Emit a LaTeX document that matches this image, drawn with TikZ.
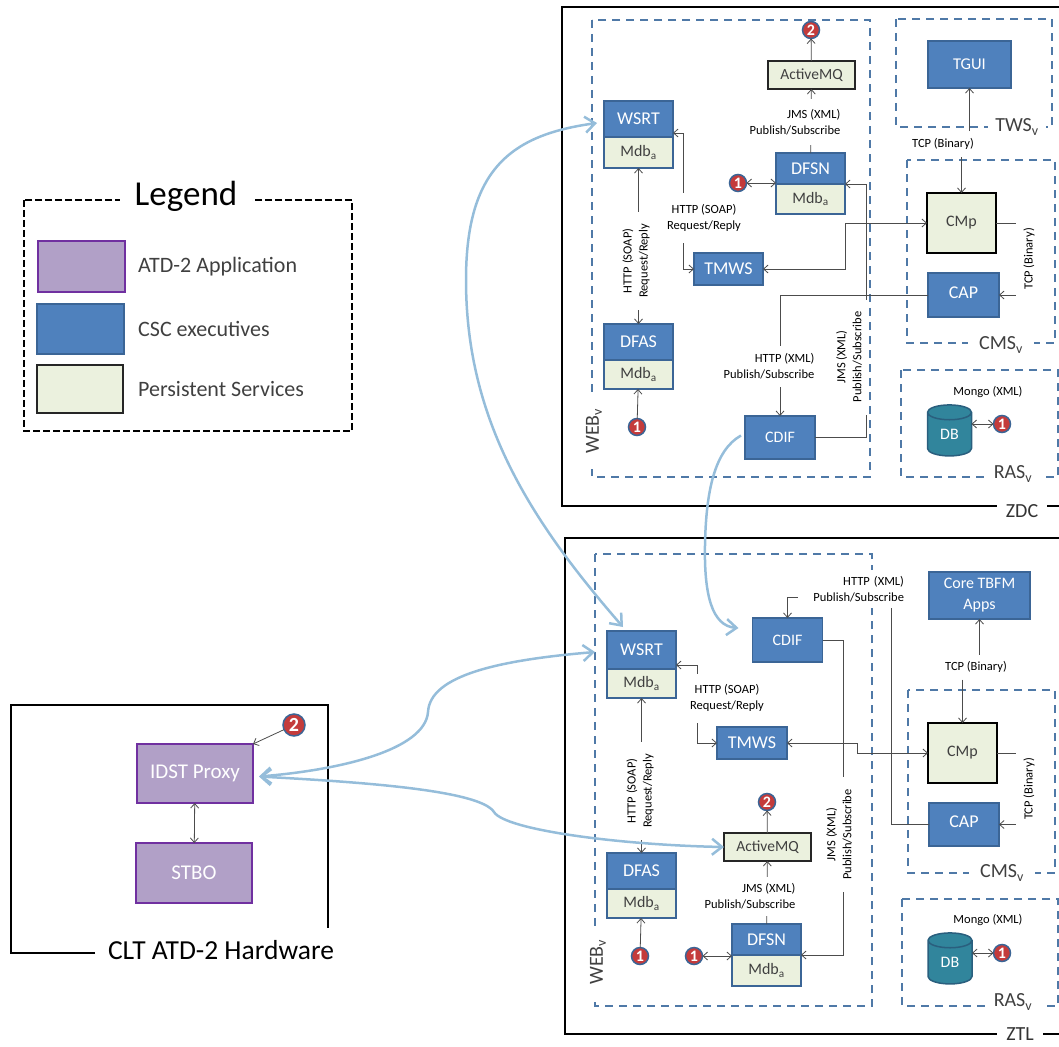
\documentclass[tikz,border=0pt]{standalone}
\usepackage{fontspec}
\setmainfont{Carlito}
\usetikzlibrary{positioning, arrows.meta, shapes.geometric}
\definecolor{execblue}{HTML}{4F81BD}
\definecolor{execedge}{HTML}{3B6596}
\definecolor{appfill}{HTML}{B1A0C7}
\definecolor{appedge}{HTML}{7030A0}
\definecolor{persist}{HTML}{EBF1DE}
\definecolor{dbfill}{HTML}{31859C}
\definecolor{dbedge}{HTML}{2A5F7E}
\definecolor{zoneblue}{HTML}{4F79A7}
\definecolor{curveblue}{HTML}{95BDDA}
\definecolor{badgered}{HTML}{C43B3B}
\definecolor{greytext}{HTML}{404040}

\begin{document}
\begin{tikzpicture}[x=1pt, y=-1pt, >={Straight Barb[length=4.5pt,width=8pt]},
	exec/.style = {draw=execedge, fill=execblue, line width=1.5pt, text=white, inner sep=0pt, outer sep=0pt, minimum width=69pt, font=\fontsize{18}{20}\selectfont},
	mdb/.style = {draw=execedge, fill=persist, line width=1.5pt, text=greytext, inner sep=0pt, outer sep=0pt, minimum width=69pt, font=\fontsize{16}{18}\selectfont},
	pers/.style = {draw=black!85, fill=persist, line width=1.3pt, text=greytext, inner sep=0pt, outer sep=0pt, font=\fontsize{15.5}{18}\selectfont},
	app/.style = {draw=appedge, fill=appfill, line width=2pt, text=white, inner sep=0pt, outer sep=0pt, font=\fontsize{21}{23}\selectfont},
	badge/.style = {circle, draw=execedge, fill=badgered, line width=1.5pt, text=white, inner sep=0pt, outer sep=0pt, minimum size=17pt, font=\fontsize{16}{16}\bfseries\selectfont},
	dbase/.style = {cylinder, shape border rotate=90, aspect=0.8, draw=dbedge, line width=1.5pt, cylinder uses custom fill, cylinder body fill=dbfill, cylinder end fill=dbfill, text=white, inner sep=0pt, outer sep=0pt, minimum width=44pt, minimum height=51pt, font=\fontsize{16}{18}\selectfont},
	conn/.style = {draw=black!70, line width=0.8pt},
	curve/.style = {draw=curveblue, line width=2.5pt, >={Straight Barb[length=10pt,width=16pt]}},
	zone/.style = {draw=zoneblue, line width=1.6pt, dash pattern=on 8pt off 6pt},
	frame/.style = {draw=black, line width=2.4pt},
	flow/.style = {fill=white, inner sep=0pt, outer sep=0pt, align=right, font=\fontsize{12.5}{16}\selectfont},
	zonelabel/.style = {fill=white, inner sep=0pt, outer sep=0pt, text=greytext, minimum height=25pt, font=\fontsize{20}{22}\selectfont},
	legtxt/.style = {text=greytext, inner sep=0pt, font=\fontsize{22}{24}\selectfont}]
	\useasboundingbox (0,0) rectangle (1059,1046);

	\draw[frame] (1059,7) -- (562,7) -- (562,506) -- (1059,506);
	\draw[frame] (1059,538) -- (565,538) -- (565,1034) -- (1059,1034);
	\draw[frame] (95,953) -- (11,953) -- (11,705) -- (328,705) -- (328,928);
	\draw[draw=black, line width=2.8pt, dash pattern=on 7pt off 3pt] (24,200) rectangle (352,431);

	\draw[zone] (592,20) rectangle (870,477);
	\draw[zone] (896,19) rectangle (1052,127);
	\draw[zone] (907,160) rectangle (1055,343);
	\draw[zone] (901,370) rectangle (1058,477);
	\draw[zone] (595,554) rectangle (872,1006);
	\draw[zone] (908,690) rectangle (1055,873);
	\draw[zone] (902,899) rectangle (1058,1006);

	\node[zonelabel, minimum width=132pt, minimum height=30pt, text=black, font=\fontsize{35}{37}\selectfont] (legend) at (186,196) {Legend};
	\node[app, minimum width=87pt, minimum height=51pt] (legapp) at (81.5,266.5) {};
	\node[exec, minimum width=87pt, minimum height=50pt] (legexec) at (80.5,329) {};
	\node[pers, minimum width=86pt, minimum height=48pt] (legpers) at (80,389) {};
	\node[legtxt] (legapptxt) [right = 13pt of legapp] {ATD-2 Application};
	\node[legtxt] (legexectxt) [right = 14pt of legexec] {CSC executives};
	\node[legtxt] (legperstxt) [right = 15pt of legpers] {Persistent Services};

	\node[app, minimum width=116pt, minimum height=59pt] (idst) at (195,773.5) {IDST Proxy};
	\node[app, minimum width=116pt, minimum height=60pt] (stbo) at (194,873) {STBO};
	\node[badge, minimum size=22pt, font=\fontsize{20}{20}\bfseries\selectfont] (bclt) at (294,725) {2};
	\node[font=\fontsize{27.5}{29}\selectfont, inner sep=0pt] (clt) at (221,950) {CLT ATD-2 Hardware};
	\draw[conn, <->] (idst) -- (stbo);
	\draw[conn, ->] (bclt) -- (idst.north east);

	\node[pers, minimum width=87pt, minimum height=28pt] (actmqz) at (811.5,75) {ActiveMQ};
	\node[badge] (b2z) at (811,30) {2};
	\node[exec, minimum height=36pt] (wsrtz) at (638.5,119) {WSRT};
	\node[mdb, minimum height=31pt] (mdbwz) [below = 0pt of wsrtz] {Mdb\textsubscript{a}};
	\node[exec, minimum height=31pt] (dfsnz) at (810.5,168.5) {DFSN};
	\node[mdb, minimum height=30pt] (mdbsz) [below = 0pt of dfsnz] {Mdb\textsubscript{a}};
	\node[badge] (b1az) at (738,183) {1};
	\node[exec, minimum height=32pt] (tmwsz) at (728.5,269) {TMWS};
	\node[exec, minimum width=69pt, minimum height=36pt] (dfasz) at (638.5,342) {DFAS};
	\node[mdb, minimum height=29pt] (mdbaz) [below = 0pt of dfasz] {Mdb\textsubscript{a}};
	\node[badge] (b1bz) at (637,427) {1};
	\node[exec, minimum width=70pt, minimum height=43pt, font=\fontsize{16}{18}\selectfont] (cdifz) at (780,437.5) {CDIF};
	\node[exec, minimum width=83pt, minimum height=47pt, font=\fontsize{16.5}{18}\selectfont] (tguiz) at (969.5,64.5) {TGUI};
	\node[pers, draw=black, line width=2.4pt, minimum width=69pt, minimum height=60pt, font=\fontsize{16}{18}\selectfont] (cmpz) at (961.5,223) {CMp};
	\node[exec, minimum width=71pt, minimum height=44pt] (capz) at (963.5,295) {\raisebox{5pt}{CAP}};
	\node[dbase] (dbz) at (949.5,434.5) {DB};
	\node[badge] (b1cz) at (1002,424) {1};

	\node[pers, minimum width=87pt, minimum height=28pt] (actmql) at (767.5,847) {ActiveMQ};
	\node[badge] (b2l) at (767,802) {2};
	\node[exec, minimum height=38pt] (wsrtl) at (641.5,650) {WSRT};
	\node[mdb, minimum height=29pt] (mdbwl) [below = 0pt of wsrtl] {Mdb\textsubscript{a}};
	\node[exec, minimum height=31pt] (dfsnl) at (766.5,939.5) {DFSN};
	\node[mdb, minimum height=31pt] (mdbsl) [below = 0pt of dfsnl] {Mdb\textsubscript{a}};
	\node[badge] (b1al) at (694,956) {1};
	\node[exec, minimum width=70pt, minimum height=32pt] (tmwsl) at (752,743) {TMWS};
	\node[exec, minimum height=36pt] (dfasl) at (641.5,871) {DFAS};
	\node[mdb, minimum height=29pt] (mdbal) [below = 0pt of dfasl] {Mdb\textsubscript{a}};
	\node[badge] (b1bl) at (640,956) {1};
	\node[exec, minimum width=70pt, minimum height=44pt, font=\fontsize{16}{18}\selectfont] (cdifl) at (787.5,640) {CDIF};
	\node[exec, minimum width=101pt, minimum height=47pt, align=center, font=\fontsize{16}{21}\selectfont] (corel) at (979.5,595.5) {Core TBFM\\Apps};
	\node[pers, draw=black, line width=2.4pt, minimum width=69pt, minimum height=60pt, font=\fontsize{16}{18}\selectfont] (cmpl) at (962.5,753) {CMp};
	\node[exec, minimum width=70pt, minimum height=43pt] (capl) at (964,824.5) {\raisebox{5pt}{CAP}};
	\node[dbase] (dbl) at (950,962.5) {DB};
	\node[badge] (b1cl) at (1002,953) {1};

	\draw[conn, <->] (mdbwz) -- (dfasz);
	\draw[conn, ->] (b1bz) -- (mdbaz);
	\draw[conn, ->] (actmqz) -- (b2z);
	\draw[conn, ->] (dfsnz) -- (actmqz);
	\draw[conn, <->] (b1az) -- (b1az -| dfsnz.west);
	\draw[conn, <->] ([yshift=4pt]wsrtz.south east) -- ++(10,0) |- (tmwsz.west);
	\draw[conn, <->] (tmwsz.east) -- ++(82,0) |- (cmpz.west);
	\draw[conn, <-] (dfsnz.south east) -- ++(21,0) |- (cdifz.east);
	\draw[conn, ->] (capz.west) -| (cdifz);
	\draw[conn, <->] (b1cz -| dbz.east) -- (b1cz);

	\draw[conn, <->] (mdbwl) -- (dfasl);
	\draw[conn, ->] (b1bl) -- (mdbal);
	\draw[conn, ->] (actmql) -- (b2l);
	\draw[conn, ->] (dfsnl) -- (actmql);
	\draw[conn, <->] (b1al) -- (b1al -| dfsnl.west);
	\draw[conn, <->] ([yshift=4pt]wsrtl.south east) -- ++(21,0) |- (tmwsl.west);
	\draw[conn, <->] (tmwsl.east) -- ++(70,0) |- (cmpl.west);
	\draw[conn, <-] (dfsnl.south east) -- ++(42,0) |- (cdifl.east);
	\draw[conn, ->] (capl.west) -| ++(-38,-227) -| (cdifl);
	\draw[conn, <->] (b1cl -| dbl.east) -- (b1cl);

	\node[flow, align=center, minimum width=98pt, minimum height=34pt, rotate=90] (soapvz) at (636,261) {HTTP (SOAP)\\Request/Reply};
	\node[flow, minimum height=46pt] (jmsz) at (795,122) {JMS (XML)\\Publish/Subscribe};
	\node[flow, align=center, minimum width=76pt, minimum height=50pt] (soapz) at (704,218) {HTTP (SOAP)\\Request/Reply};
	\node[flow, minimum height=41pt] (httpz) at (769,366) {HTTP (XML)\\Publish/Subscribe};
	\node[flow, align=center, minimum width=115pt, minimum height=36pt, rotate=90] (jmsvz) at (849,357) {JMS (XML)\\Publish/Subscribe};
	\node[flow, minimum height=26pt] (tcpz) at (943,144) {TCP (Binary)};
	\node[flow, minimum height=26pt, rotate=90] (tcpvz) at (1029,259) {TCP (Binary)};
	\node[flow, inner sep=1pt] (mongoz) at (988,392) {Mongo (XML)};

	\node[flow, align=center, minimum width=98pt, minimum height=34pt, rotate=90] (soapvl) at (640,791) {HTTP (SOAP)\\Request/Reply};
	\node[flow, minimum height=39pt] (jmsl) at (750,896) {JMS (XML)\\Publish/Subscribe};
	\node[flow, align=center, minimum width=78pt, minimum height=49pt] (soapl) at (727,698) {HTTP (SOAP)\\Request/Reply};
	\node[flow, text width=106pt, minimum height=38pt] (httpl) at (851,589) {HTTP (XML)\\Publish/Subscribe};
	\node[flow, align=center, minimum width=115pt, minimum height=34pt, rotate=90] (jmsvl) at (839,834.5) {JMS (XML)\\Publish/Subscribe};
	\node[flow, minimum height=25pt] (tcpl) at (976,667) {TCP (Binary)};
	\node[flow, minimum height=26pt, rotate=90] (tcpvl) at (1029,789) {TCP (Binary)};
	\node[flow, inner sep=1pt] (mongol) at (988,920) {Mongo (XML)};

	\draw[conn, ->] (tguiz |- tcpz.north) -- (tguiz);
	\draw[conn, ->] (cmpz |- tcpz.south) -- (cmpz);
	\draw[conn] (cmpz.east) -- (cmpz.east -| tcpvz.north);
	\draw[conn, <-] (capz.east) -- (capz.east -| tcpvz.north);
	\draw[conn, ->] (corel |- tcpl.north) -- (corel);
	\draw[conn, ->] (cmpl |- tcpl.south) -- (cmpl);
	\draw[conn] (cmpl.east) -- (cmpl.east -| tcpvl.north);
	\draw[conn, <-] (capl.east) -- (capl.east -| tcpvl.north);

	\node[zonelabel, minimum width=58pt] (twsz) at (1017,127) {TWS\textsubscript{v}};
	\node[zonelabel, minimum width=66pt] (cmsz) at (1001,345) {CMS\textsubscript{v}};
	\node[zonelabel, minimum width=57pt] (rasz) at (1013,474) {RAS\textsubscript{v}};
	\node[zonelabel, minimum width=50pt, text=black!80] (zdc) at (1022,511) {ZDC};
	\node[zonelabel, minimum width=75pt, rotate=90] (webz) at (594,431) {WEB\textsubscript{v}};
	\node[zonelabel, minimum width=66pt] (cmsl) at (1002,873) {CMS\textsubscript{v}};
	\node[zonelabel, minimum width=57pt] (rasl) at (1013,1002) {RAS\textsubscript{v}};
	\node[zonelabel, minimum width=46pt, minimum height=22pt, text=black!80] (ztl) at (1020,1034) {ZTL};
	\node[zonelabel, minimum width=69pt, rotate=90] (webl) at (598,962) {WEB\textsubscript{v}};

	\draw[curve, <->] ([shift={(-7,4)}]wsrtz.west) .. controls (510,135) and (466,170) .. (466,280) .. controls (466,420) and (530,520) .. ([shift={(16,-4)}]wsrtl.north west);
	\draw[curve, ->] ([shift={(-4,-2)}]cdifz.west) .. controls (715,450) and (706,490) .. (705,545) .. controls (704,595) and (712,626) .. ([shift={(-14,-12)}]cdifl.west);
	\draw[curve, <->] ([shift={(6,3)}]idst.east) .. controls (340,770) and (425,750) .. (428,712) .. controls (430,675) and (500,660) .. ([shift={(-12,2)}]wsrtl.west);
	\draw[curve, <->] ([shift={(6,3)}]idst.east) .. controls (360,782) and (480,790) .. (494,812) .. controls (505,830) and (620,845) .. (actmql.west);
\end{tikzpicture}
\end{document}
